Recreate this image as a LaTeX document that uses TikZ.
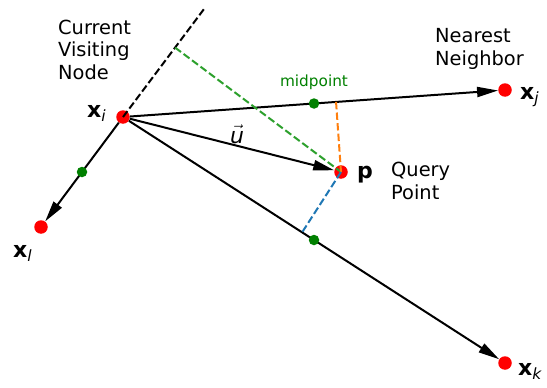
\documentclass[tikz,border=0pt]{standalone}
\usepackage{fontspec}
\setmainfont{DejaVu Sans}
\usetikzlibrary{arrows.meta,calc}
\definecolor{tabgreen}{RGB}{44,160,44}
\definecolor{taborange}{RGB}{255,127,14}
\definecolor{tabblue}{RGB}{31,119,180}
\definecolor{darkgreen}{RGB}{0,128,0}
% bold vector name with an italic subscript
\newcommand{\vlab}[2]{\textbf{#1}\raisebox{-4.5pt}{\fontsize{15.5}{16}\selectfont\itshape #2}}

\begin{document}
\begin{tikzpicture}[x=1pt,y=-1pt,
  lbl/.style={inner sep=0pt,font=\fontsize{19.4}{22.5}\selectfont},
  math/.style={inner sep=0pt,font=\fontsize{22}{24}\selectfont},
  pt/.style={circle,fill=red,inner sep=0pt,minimum size=13.5pt},
  mid/.style={circle,fill=darkgreen,inner sep=0pt,minimum size=10.5pt},
  edgeline/.style={line width=2pt},
  arr/.style={edgeline,-{Triangle[length=21pt,width=10pt]}},
  dsh/.style={line width=2pt,dash pattern=on 7.4pt off 3.2pt}]
\useasboundingbox (0,0) rectangle (547,388);

% data points
\node[pt] (xi) at (123,117) {};
\node[pt] (xj) at (505,90) {};
\node[pt] (xl) at (41,227) {};
\node[pt] (xk) at (505,363) {};
\node[pt] (p)  at (341,172) {};
\coordinate (top) at (204,9);

% feet of the perpendiculars from p
\coordinate (fg) at ($(xi)!(p)!(top)$);
\coordinate (fo) at ($(xi)!(p)!(xj)$);
\coordinate (fb) at ($(xi)!(p)!(xk)$);

% edges from the current node
\draw[arr] (xi) -- (xj);
\draw[arr] (xi) -- (xl);
\draw[arr] (xi) -- (xk);
\draw[arr] (xi) -- (p);

% dashed guides
\draw[dsh] (xi.center) -- (top);
\draw[dsh,tabgreen] (fg) -- (p.center);
\draw[dsh,taborange] (fo) -- (p.center);
\draw[dsh,tabblue] (p.center) -- (fb);

% midpoints
\node[mid] (mij) at ($(xi)!0.5!(xj)$) {};
\node[mid] (mil) at ($(xi)!0.5!(xl)$) {};
\node[mid] (mik) at ($(xi)!0.5!(xk)$) {};

% labels
\node[math,anchor=base west] (lxi) at (87,117) {\vlab{x}{i}};
\node[math,anchor=base west] (lxj) at (520,99) {\vlab{x}{j}};
\node[math,anchor=base west] (lxl) at (13,257) {\vlab{x}{l}};
\node[math,anchor=base west] (lxk) at (518,375) {\vlab{x}{k}};
\node[math,anchor=base west] (lp) at (357,178) {\textbf{p}};
\node[math,anchor=base] (lu) at (237,143) {$\vec{\textit{u}}$};
\node[lbl,anchor=base west,align=left] (cur) at (58,79.3) {Current\\Visiting\\Node};
\node[lbl,anchor=base west,align=left] (nn) at (435,65) {Nearest\\Neighbor};
\node[lbl,anchor=base west,align=left] (qp) at (391,199) {Query\\Point};
\node[inner sep=0pt,anchor=base,text=darkgreen,font=\fontsize{15.3}{18}\selectfont] (mlab) at (314,86.5) {midpoint};
\end{tikzpicture}
\end{document}
